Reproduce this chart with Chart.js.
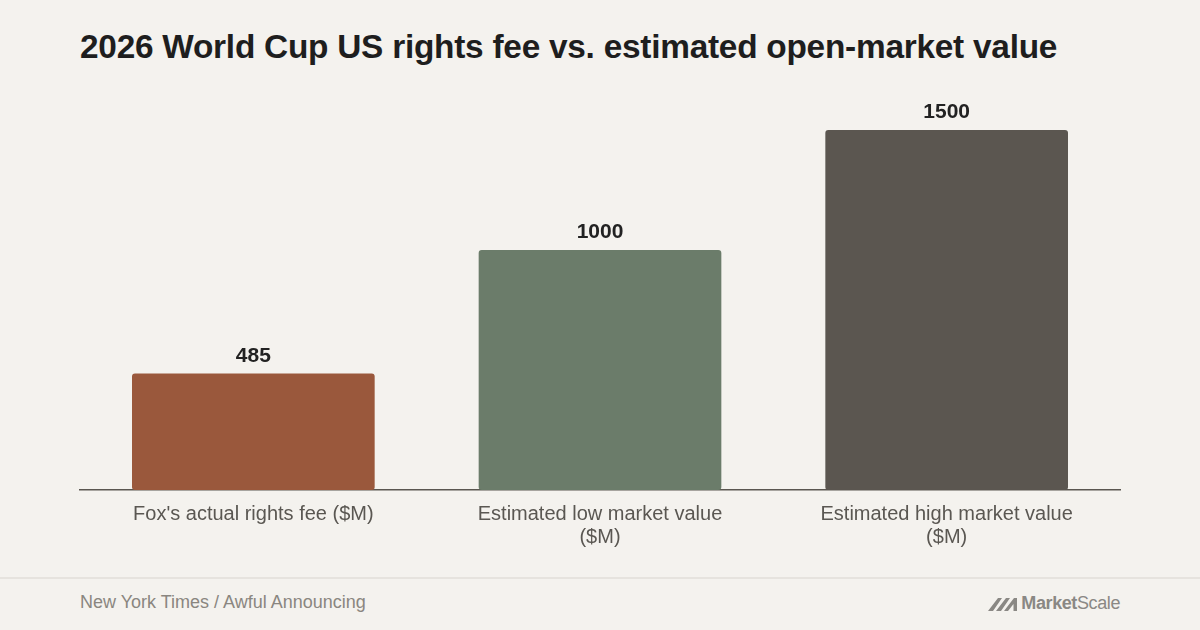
<!DOCTYPE html>
<html>
<head>
<meta charset="utf-8">
<script src="https://cdn.jsdelivr.net/npm/chart.js@4"></script>
<style>
  html, body { margin: 0; padding: 0; }
  body {
    width: 1200px; height: 630px; overflow: hidden; position: relative;
    background: #f4f2ee; font-family: "Liberation Sans", Arial, sans-serif;
  }
  #title {
    position: absolute; left: 80px; top: 28px; margin: 0;
    font-size: 33.4px; font-weight: bold; color: #1e1e1e; letter-spacing: -0.25px;
  }
  #wrap { position: absolute; left: 0; top: 94px; width: 1200px; height: 468px; }
  #divider { position: absolute; left: 0; top: 577px; width: 1200px; height: 2px; background: #e6e3de; }
  #source { position: absolute; left: 80px; top: 592px; font-size: 18px; color: #8a8680; }
  #logo {
    position: absolute; right: 80px; top: 593px; font-size: 18px; color: #8a8884;
    display: flex; align-items: center; gap: 3px; letter-spacing: -0.4px;
  }
  #logo b { font-weight: bold; }
</style>
</head>
<body>
<h1 id="title">2026 World Cup US rights fee vs. estimated open-market value</h1>
<div id="wrap"><canvas id="chart"></canvas></div>
<div id="divider"></div>
<div id="source">New York Times / Awful Announcing</div>
<div id="logo">
  <svg width="30" height="15" viewBox="0 0 30 15">
    <path d="M0 15 L10 2 L14 2 L5 15 Z M8 15 L18 2 L22 2 L13 15 Z M16 15 L26 2 L29 2 L29 15 L25.5 15 L25.5 8 L20 15 Z" fill="#8a8884"/>
  </svg>
  <span><b>Market</b>Scale</span>
</div>
<script>
const CATEGORIES = [
  "Fox's actual rights fee ($M)",
  ["Estimated low market value", "($M)"],
  ["Estimated high market value", "($M)"],
];
const VALUES = [485, 1000, 1500];
const COLORS = ["#9a583c", "#6b7c6a", "#5b5650"];

const valueLabels = {
  id: "valueLabels",
  afterDatasetsDraw(chart) {
    const ctx = chart.ctx;
    const meta = chart.getDatasetMeta(0);
    ctx.save();
    ctx.font = "bold 21px 'Liberation Sans', Arial, sans-serif";
    ctx.fillStyle = "#222222";
    ctx.textAlign = "center";
    ctx.textBaseline = "alphabetic";
    meta.data.forEach((bar, i) => {
      ctx.fillText(String(VALUES[i]), bar.x, bar.y - 12);
    });
    ctx.restore();
  },
};

new Chart(document.getElementById("chart"), {
  type: "bar",
  data: {
    labels: CATEGORIES,
    datasets: [{
      data: VALUES,
      backgroundColor: COLORS,
      borderRadius: 3,
      borderSkipped: false,
      categoryPercentage: 0.7,
      barPercentage: 1,
    }],
  },
  options: {
    responsive: true,
    maintainAspectRatio: false,
    animation: false,
    layout: { padding: { left: 80, right: 80, top: 0, bottom: 0 } },
    plugins: { legend: { display: false }, tooltip: { enabled: false } },
    scales: {
      y: { display: false, min: 0, max: 1650 },
      x: {
        grid: { display: false, drawTicks: false },
        border: { display: true, color: "#5a5650", width: 1.5 },
        ticks: {
          color: "#5a5752",
          padding: 13,
          maxRotation: 0,
          font: { family: "'Liberation Sans', Arial, sans-serif", size: 20, lineHeight: 1.15 },
        },
      },
    },
  },
  plugins: [valueLabels],
});
</script>
</body>
</html>
